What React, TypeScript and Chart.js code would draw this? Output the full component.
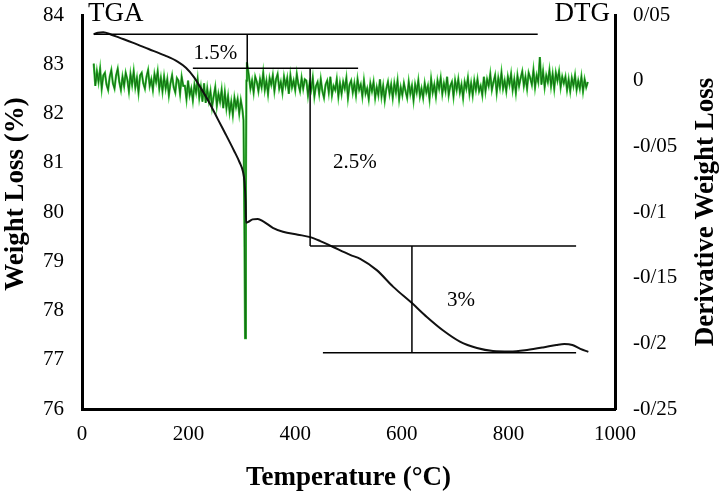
import React, { useRef, useEffect } from "react";
import { Chart, registerables } from "chart.js";

Chart.register(...registerables);

// TGA curve (black), left axis: temperature (°C) and weight (%)
const tgaTemps = [
  22, 30, 40, 55, 70, 95, 125, 155, 180, 195, 210, 225, 240, 255, 270, 285,
  296, 302, 305, 307, 308, 312, 320, 330, 340, 358, 377, 405, 428, 447, 471,
  503, 522, 553, 584, 619, 647, 677, 709, 741, 771, 803, 835, 865, 890, 905,
  920, 935, 950,
];
const tgaWeights = [
  83.61, 83.64, 83.65, 83.6, 83.54, 83.44, 83.31, 83.18, 83.05, 82.93, 82.74,
  82.48, 82.2, 81.88, 81.57, 81.25, 81.0, 80.82, 80.6, 80.2, 79.78, 79.8,
  79.85, 79.86, 79.81, 79.68, 79.6, 79.54, 79.49, 79.41, 79.29, 79.13, 79.05,
  78.82, 78.48, 78.15, 77.87, 77.6, 77.37, 77.24, 77.18, 77.17, 77.2, 77.25,
  77.3, 77.32, 77.3, 77.22, 77.16,
];

// DTG curve (green), right axis: sample temperatures (°C)
const dtgTemps = [
  22, 25, 28, 31, 34, 37, 40, 43, 46, 49,
  52, 55, 58, 61, 64, 67, 70, 73, 76, 79,
  82, 85, 88, 91, 94, 97, 100, 103, 106, 109,
  112, 115, 118, 121, 124, 127, 130, 133, 136, 139,
  142, 145, 148, 151, 154, 157, 160, 163, 166, 169,
  172, 175, 178, 181, 184, 187, 190, 193, 196, 199,
  202, 205, 208, 211, 214, 217, 220, 223, 226, 229,
  232, 235, 238, 241, 244, 247, 250, 253, 256, 259,
  262, 265, 268, 271, 274, 277, 280, 283, 286, 289,
  292, 295, 298, 301,
  303, 304.5, 306, 307.5, 308.5, 309.5,
  313, 316, 319, 322, 325, 328, 331, 334, 337, 340,
  343, 346, 349, 352, 355, 358, 361, 364, 367, 370,
  373, 376, 379, 382, 385, 388, 391, 394, 397, 400,
  403, 406, 409, 412, 415, 418, 421, 424, 427, 430,
  433, 436, 439, 442, 445, 448, 451, 454, 457, 460,
  463, 466, 469, 472, 475, 478, 481, 484, 487, 490,
  493, 496, 499, 502, 505, 508, 511, 514, 517, 520,
  523, 526, 529, 532, 535, 538, 541, 544, 547, 550,
  553, 556, 559, 562, 565, 568, 571, 574, 577, 580,
  583, 586, 589, 592, 595, 598, 601, 604, 607, 610,
  613, 616, 619, 622, 625, 628, 631, 634, 637, 640,
  643, 646, 649, 652, 655, 658, 661, 664, 667, 670,
  673, 676, 679, 682, 685, 688, 691, 694, 697, 700,
  703, 706, 709, 712, 715, 718, 721, 724, 727, 730,
  733, 736, 739, 742, 745, 748, 751, 754, 757, 760,
  763, 766, 769, 772, 775, 778, 781, 784, 787, 790,
  793, 796, 799, 802, 805, 808, 811, 814, 817, 820,
  823, 826, 829, 832, 835, 838, 841, 844, 847, 850,
  853, 856, 859, 862, 865, 868, 871, 874, 877, 880,
  883, 886, 889, 892, 895, 898, 901, 904, 907, 910,
  913, 916, 919, 922, 925, 928, 931, 934, 937, 940,
  943, 946, 949,
];

// DTG values, in thousandths of the right-axis unit
const dtgMilli = [
  // 22-301 °C
  13, -4, 7, -1, 9, -6, 4, 6, -3, -7, 3, 8, -2,
  -6, 4, 9, -1, -7, 3, -4, 6, 1, -8, 5, -3, 7, -5, 2, -9, 4, 6, -2, -6,
  3, 8, -4, 1, -7, 5, -1, 7, -6, 2,
  -8, 3, -6, 1, -11, -2, 4, -5, -9, 2, 0, -10, 3, -4,
  -4, -14, 0, -11, -6, -15, -3, -9, 1, -13, -5, -16, -2,
  -17, -6, -15, -8, -20, -12, -5, -19, -10, -16, -7, -21, -9,
  -21, -12, -24, -16, -26, -13, -20, -14, -25, -15, -22,
  // decomposition peak
  -30, -100, -196, -80, 0, 14,
  // 313-418 °C
  4, -6, 0, -9, 3, -1, -8, 1, -5, 6, -7, 0, -10, 2, -3, 4, -8, 1, 5, -6,
  -1, -9, 3, -4, 2, -10, 4, -5, 0, -7, 5, -3, -8, 2, -6, 1,
  // 421-520 °C
  0, -11, -2, -7, 2, -12, -4, -1, -10, 1, -8, -13, -3, 0, -9, 3, -11, -4,
  -7, 1, -12, -2, -10, -1, -6, 2, -13, -3, 0, -9, -2, -11, 1, -7,
  // 523-652 °C
  -3, -12, 0, -10, -6, -14, -2, -8, -1, -13, -5, -11, 1, -12, -4, -15, -6,
  -1, -10, -3, -13, -2, -9, 0, -14, -5, -11, -2, -8, -13, -1, -10, -4, -15,
  -3, -9, 0, -12, -6, -13, -2, -9, -4, -14,
  // 655-751 °C
  1, -9, -3, -12, 0, -6, 2, -10, -2, -8, 3, -11, -4, -1, -12, 0, -7, 1, -9,
  -3, -13, -1, -6, 2, -10, -2, -11, 0, -7, 1, -8, -4, -11,
  // 754-823 °C
  3, -8, 1, -4, 5, -7, -1, 4, -9, 2, -5, 6, -6, 0, -8, 3, -3, 5, -7, 1, -9,
  4, -4, 2,
  // 826-904 °C
  7, -4, 3, -6, 6, 2, -3, 8, -5, 4, -1, 18, -3, 7, -5, 4, -1, 8, -4, 5, -6,
  6, 0, 7, -5, 3, -2,
  // 907-949 °C
  3, -7, 1, -8, 2, -4, 4, -7, 0, -6, 3, -8, 1, -5, -1,
];
const dtgValues = dtgMilli.map((v) => v / 1000);

// step construction lines on the TGA axis: [T1, W1, T2, W2]
const stepLines: [number, number, number, number][] = [
  [22, 83.61, 855, 83.61],
  [310, 83.61, 310, 82.92],
  [208, 82.92, 518, 82.92],
  [428, 82.92, 428, 79.31],
  [428, 79.31, 927, 79.31],
  [619, 79.31, 619, 77.14],
  [452, 77.14, 927, 77.14],
];

const stepLabels = ["1.5%", "2.5%", "3%"];
const stepLabelTemps = [250, 512, 711];
const stepLabelWeights = [83.22, 81.0, 78.2];

const xTicks = [0, 200, 400, 600, 800, 1000];

const SERIF = '"Liberation Serif", "Times New Roman", serif';

const toPoints = (xs: number[], ys: number[]) =>
  xs.map((x, i) => ({ x, y: ys[i] }));

// fixed box sizes so the plot area sits where it does in the figure
const fixWidth = (w: number) => (s: any) => {
  s.width = w;
  s.paddingTop = 0;
  s.paddingBottom = 0;
};

const textPlugin = {
  id: "tgaText",
  afterDraw(chart: any) {
    const { ctx, chartArea, scales } = chart;
    ctx.save();
    ctx.fillStyle = "#000";

    ctx.font = `21px ${SERIF}`;
    ctx.textAlign = "center";
    ctx.textBaseline = "middle";
    stepLabels.forEach((label, i) => {
      ctx.fillText(
        label,
        scales.x.getPixelForValue(stepLabelTemps[i]),
        scales.y.getPixelForValue(stepLabelWeights[i])
      );
    });

    ctx.font = `27px ${SERIF}`;
    ctx.textBaseline = "alphabetic";
    ctx.textAlign = "left";
    ctx.fillText("TGA", chartArea.left + 6, 21);
    ctx.textAlign = "right";
    ctx.fillText("DTG", chartArea.right - 5, 21);

    ctx.font = `bold 27px ${SERIF}`;
    ctx.textAlign = "center";
    ctx.fillText("Temperature (°C)", (chartArea.left + chartArea.right) / 2, 485);

    ctx.save();
    ctx.translate(23, 194);
    ctx.rotate(-Math.PI / 2);
    ctx.fillText("Weight Loss (%)", 0, 0);
    ctx.restore();

    ctx.save();
    ctx.translate(713, 212);
    ctx.rotate(-Math.PI / 2);
    ctx.fillText("Derivative Weight Loss", 0, 0);
    ctx.restore();

    ctx.restore();
  },
};

const App: React.FC = () => {
  const canvasRef = useRef<HTMLCanvasElement | null>(null);

  useEffect(() => {
    document.body.style.margin = "0";
    if (!canvasRef.current) return;

    const tickFont = { family: SERIF, size: 21 };

    const chart = new Chart(canvasRef.current, {
      type: "line",
      data: {
        datasets: [
          ...stepLines.map(([t1, w1, t2, w2]) => ({
            data: [
              { x: t1, y: w1 },
              { x: t2, y: w2 },
            ],
            borderColor: "#000",
            borderWidth: 1.5,
            pointRadius: 0,
            yAxisID: "y",
            order: 0,
          })),
          {
            label: "TGA",
            data: toPoints(tgaTemps, tgaWeights),
            borderColor: "#111",
            borderWidth: 2,
            pointRadius: 0,
            cubicInterpolationMode: "monotone" as const,
            yAxisID: "y",
            order: 1,
          },
          {
            label: "DTG",
            data: toPoints(dtgTemps, dtgValues),
            borderColor: "#156f15",
            borderWidth: 1.1,
            pointRadius: 0,
            yAxisID: "y2",
            order: 2,
          },
          {
            label: "DTG glow",
            data: toPoints(dtgTemps, dtgValues),
            borderColor: "#3cc83c",
            borderWidth: 2.2,
            pointRadius: 0,
            yAxisID: "y2",
            order: 3,
          },
        ],
      },
      options: {
        responsive: true,
        maintainAspectRatio: false,
        animation: false,
        layout: { padding: { top: 15, left: 0, right: 0, bottom: 0 } },
        plugins: {
          legend: { display: false },
          tooltip: { enabled: false },
        },
        scales: {
          x: {
            type: "linear",
            min: 0,
            max: 1000,
            afterBuildTicks: (s: any) => {
              s.ticks = xTicks.map((v) => ({ value: v }));
            },
            afterFit: (s: any) => {
              s.height = 82;
            },
            grid: { display: false, drawTicks: false },
            border: { display: true, color: "#000", width: 3 },
            ticks: {
              color: "#000",
              font: tickFont,
              padding: 13,
              maxRotation: 0,
              callback: (v: any) => String(v),
            },
          },
          y: {
            position: "left",
            min: 76,
            max: 84,
            ticks: { stepSize: 1, color: "#000", font: tickFont, padding: 18 },
            afterFit: fixWidth(82),
            grid: { display: false, drawTicks: false },
            border: { display: true, color: "#000", width: 3 },
          },
          y2: {
            position: "right",
            min: -0.25,
            max: 0.05,
            ticks: {
              stepSize: 0.05,
              color: "#000",
              font: tickFont,
              padding: 18,
              callback: (v: any) =>
                String(Math.round(Number(v) * 100) / 100).replace(".", "/"),
            },
            afterFit: fixWidth(109),
            grid: { display: false, drawTicks: false },
            border: { display: true, color: "#000", width: 3 },
          },
        },
      },
      plugins: [textPlugin],
    });

    return () => {
      chart.destroy();
    };
  }, []);

  return (
    <div style={{ width: 724, height: 491, position: "relative", background: "#fff" }}>
      <canvas ref={canvasRef} />
    </div>
  );
};

export default App;
